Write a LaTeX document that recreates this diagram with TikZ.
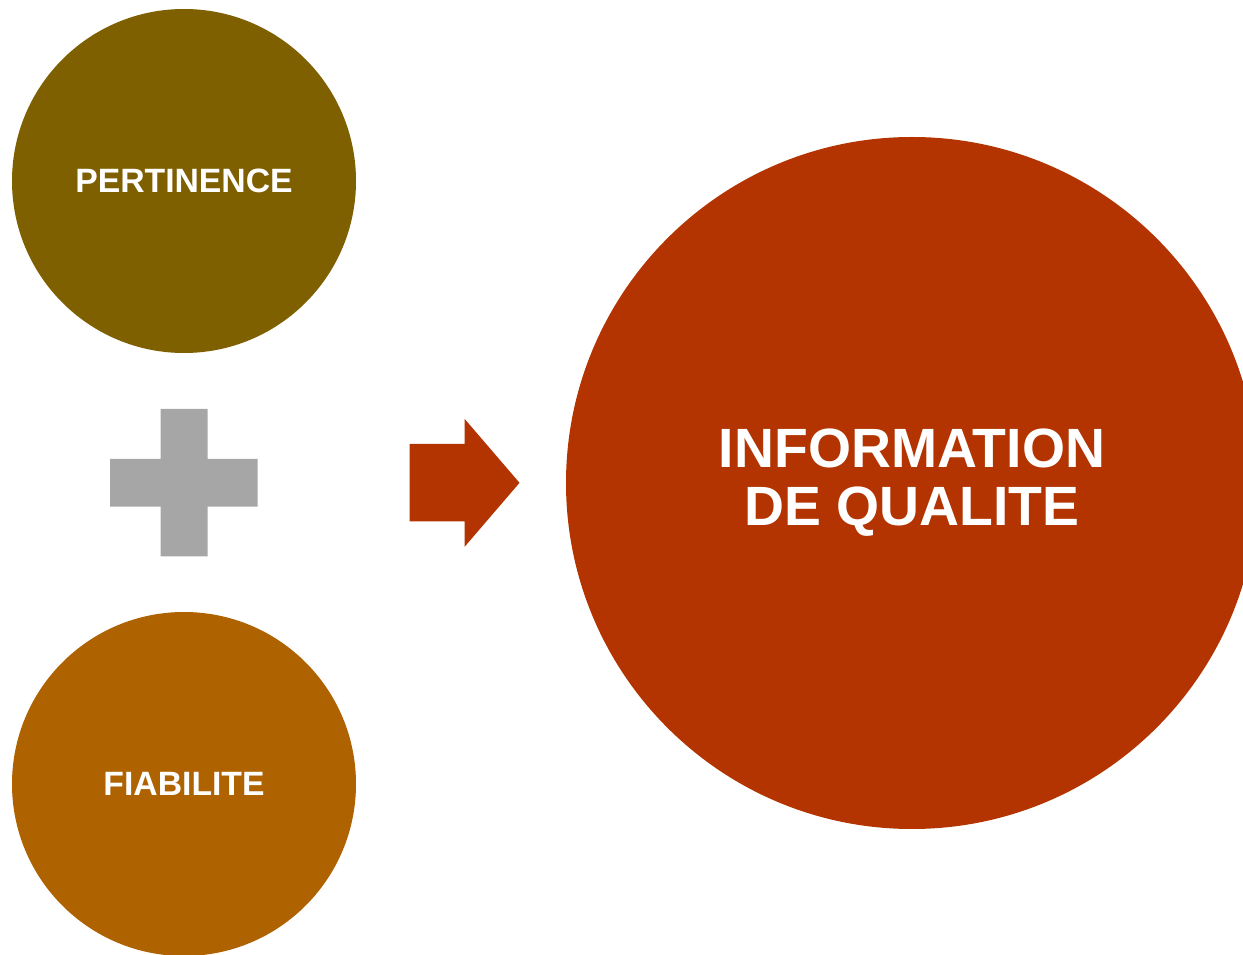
\documentclass[tikz,border=0pt]{standalone}
\usepackage{fontspec}
\setmainfont{Liberation Sans}
\definecolor{olivec}{HTML}{7F6000}
\definecolor{orangec}{HTML}{AE6300}
\definecolor{redc}{HTML}{B33400}
\definecolor{grayc}{HTML}{A6A6A6}
\begin{document}
\begin{tikzpicture}[x=0.75pt,y=-0.75pt,
  smallcirc/.style={circle,inner sep=0pt,minimum size=258pt,text=white,
    font=\bfseries\fontsize{25.3}{30}\selectfont},
  bigcirc/.style={circle,inner sep=0pt,minimum size=519pt,text=white,align=center,
    font=\bfseries\fontsize{41.5}{43.5}\selectfont}]
\useasboundingbox (0,0) rectangle (1243,955);
\clip (0,0) rectangle (1243,955);
\node[smallcirc,fill=olivec] (pert) at (184,181) {PERTINENCE};
\node[smallcirc,fill=orangec] (fiab) at (184,784) {FIABILITE};
\node[bigcirc,fill=redc] (info) at (912,483) {INFORMATION\\DE QUALITE};
\fill[grayc] (160.5,409) -- (207.7,409) -- (207.7,459) -- (257.7,459) -- (257.7,506.7)
  -- (207.7,506.7) -- (207.7,556.3) -- (160.5,556.3) -- (160.5,506.7) -- (110,506.7)
  -- (110,459) -- (160.5,459) -- cycle;
\fill[redc] (409.5,444) -- (464.7,444) -- (464.7,419) -- (519.5,482.8) -- (464.7,546.7)
  -- (464.7,521.5) -- (409.5,521.5) -- cycle;
\end{tikzpicture}
\end{document}
